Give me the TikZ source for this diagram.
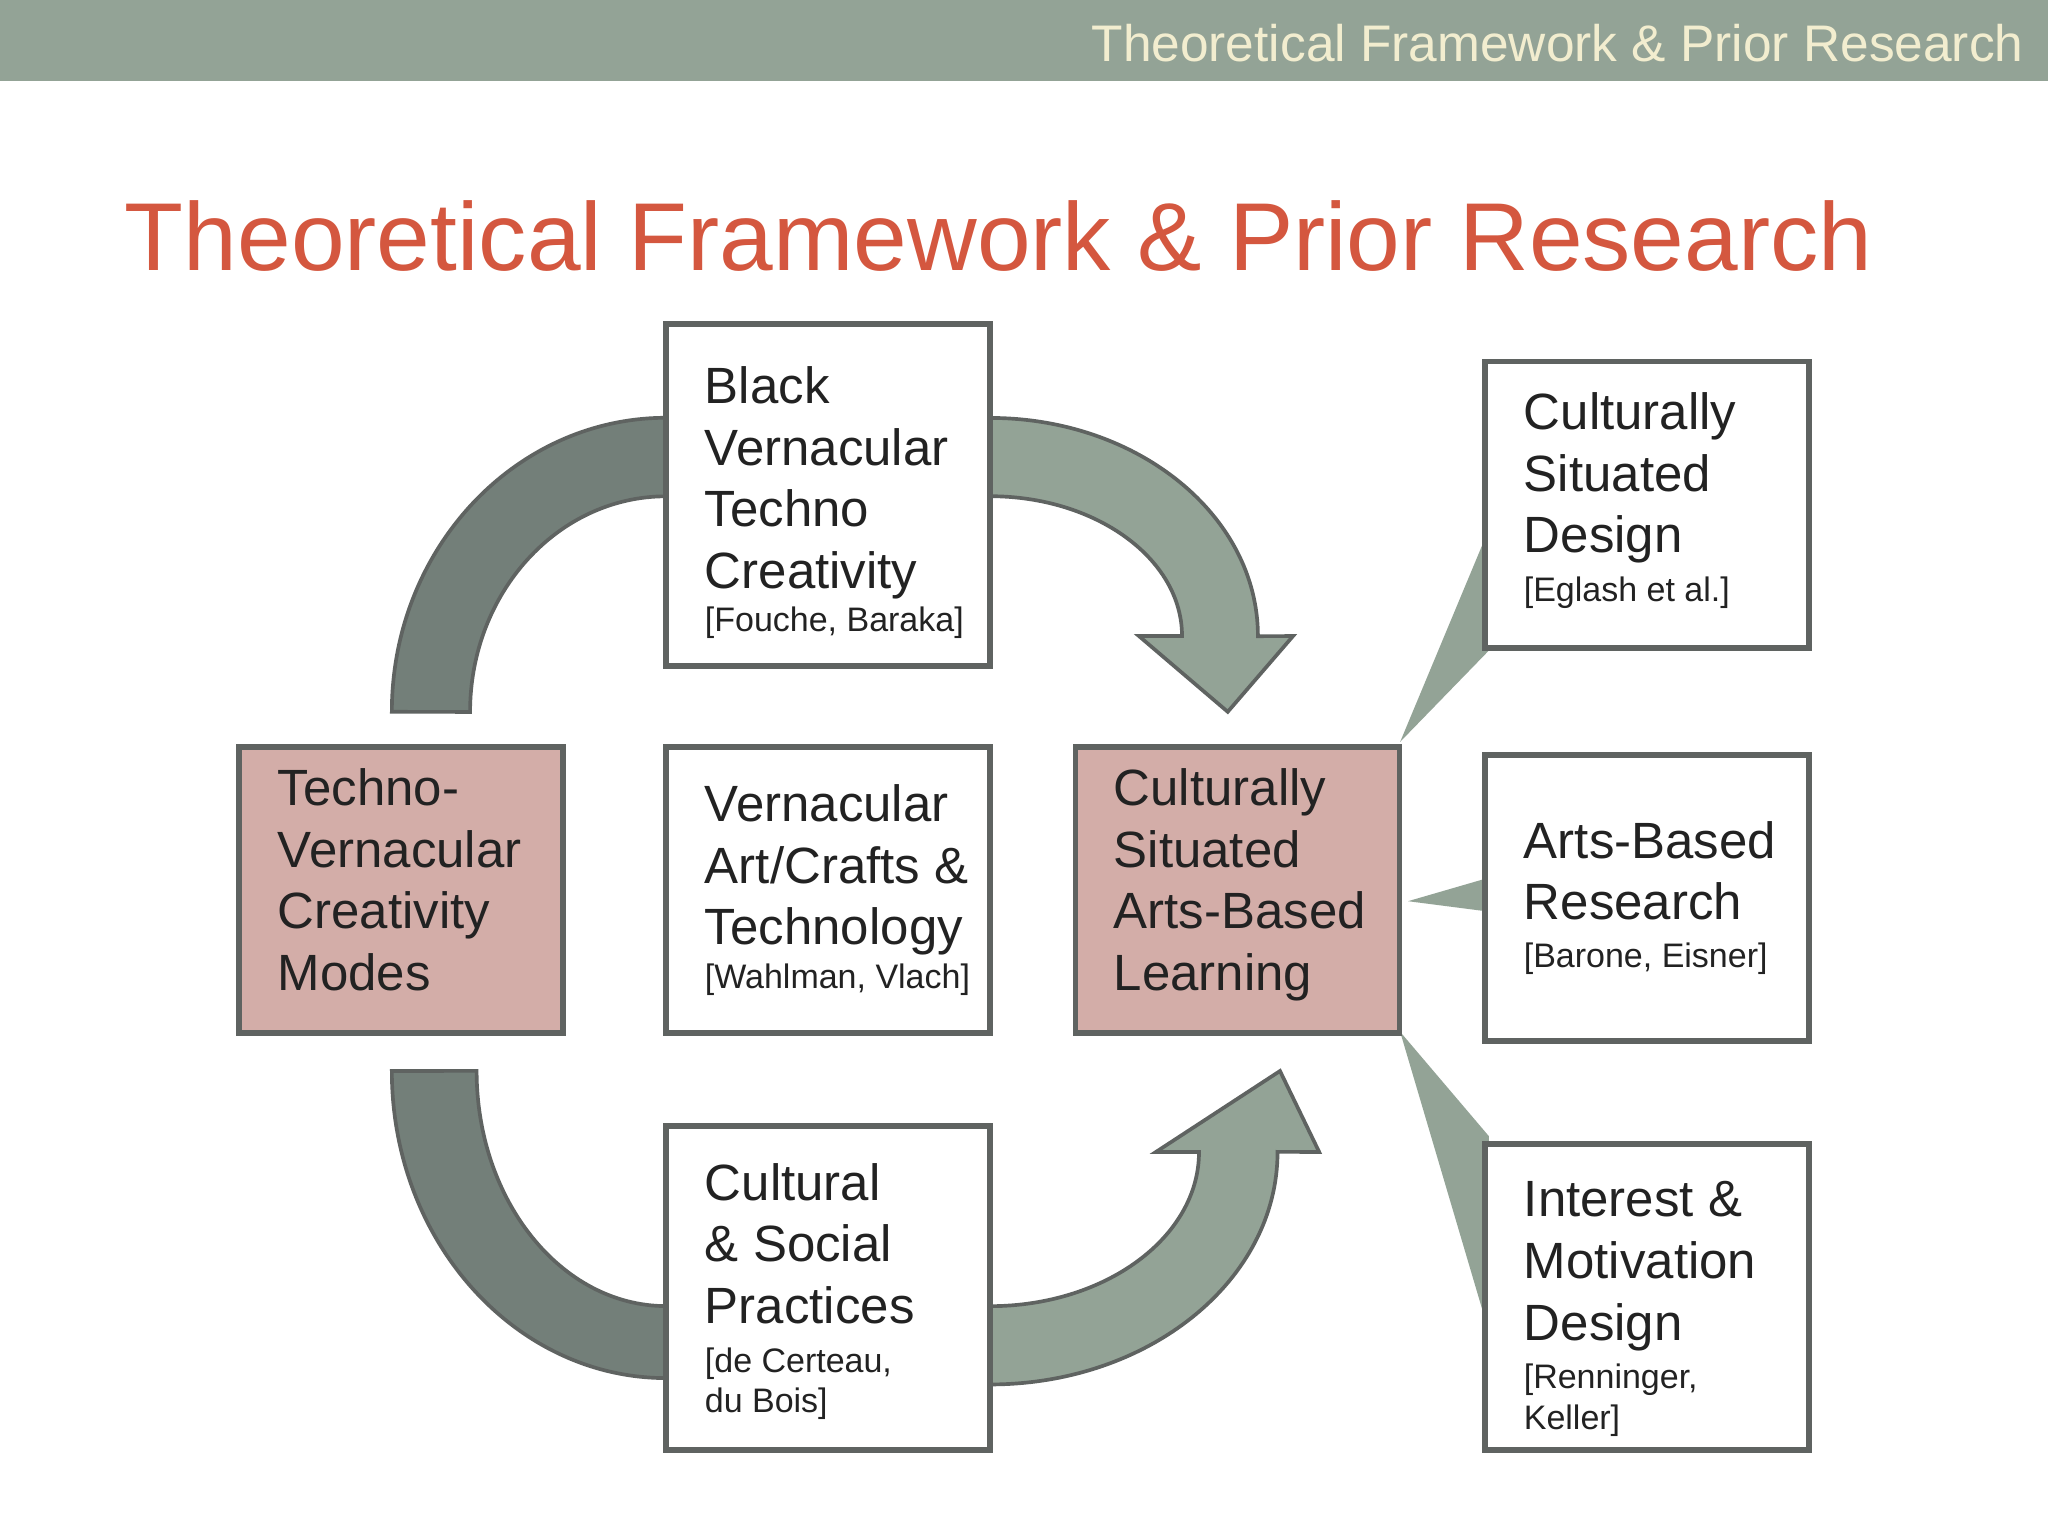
\documentclass[tikz,border=0pt]{standalone}
\usepackage{fontspec}
\setmainfont{Liberation Sans}
\definecolor{hdr}{HTML}{93A396}
\definecolor{ttl}{HTML}{D4573F}
\definecolor{darkarr}{HTML}{737F79}
\definecolor{pinkbox}{HTML}{D3ADA8}
\definecolor{bord}{HTML}{5F6361}
\definecolor{txt}{HTML}{222222}
\definecolor{hdrtxt}{HTML}{F2EDCF}
\newcommand{\bigt}{\fontsize{11.1}{13.4}\selectfont}
\newcommand{\smallt}{\fontsize{7.4}{8.8}\selectfont}
\tikzset{
  box/.style={draw=bord,line width=1.2pt,fill=white,minimum width=2.48cm,inner sep=0pt},
  pbox/.style={box,fill=pinkbox},
  lbl/.style={anchor=north west,align=left,inner sep=0pt,text=txt,font=\bigt},
  slbl/.style={anchor=north west,align=left,inner sep=0pt,text=txt,font=\smallt,yshift=-0.05cm},
  darrow/.style={fill=darkarr,draw=bord,line width=0.8pt},
  larrow/.style={fill=hdr,draw=bord,line width=0.8pt},
  wedge/.style={fill=hdr}
}
\begin{document}
\begin{tikzpicture}[x=0.01cm,y=0.01cm]
\useasboundingbox (0,0) rectangle (1568,1176);
\fill[white] (0,0) rectangle (1568,1176);
\fill[hdr] (0,1114) rectangle (1568,1176);
\node[anchor=base east,inner sep=0pt,text=hdrtxt,font=\fontsize{11.2}{14}\selectfont] (hd) at (1550,1129) {Theoretical Framework \& Prior Research};
\node[anchor=base west,inner sep=0pt,text=ttl,font=\fontsize{21.0}{26}\selectfont] (title) at (95,969) {Theoretical Framework \& Prior Research};
% arrows
\draw[darrow] (300,631) arc[start angle=180,end angle=90,x radius=2.1cm,y radius=2.25cm] -- (510,796) arc[start angle=90,end angle=180,x radius=1.5cm,y radius=1.65cm] -- cycle;
\draw[larrow] (758,856) arc[start angle=90,end angle=0,x radius=2.05cm,y radius=1.67cm] -- (990,689) -- (940,631) -- (872,689) -- (905,689) arc[start angle=0,end angle=90,x radius=1.47cm,y radius=1.07cm] -- cycle;
\draw[darrow] (300,356) arc[start angle=180,end angle=270,x radius=2.1cm,y radius=2.35cm] -- (510,121) -- (510,176) arc[start angle=270,end angle=180,x radius=1.45cm,y radius=1.8cm] -- cycle;
\draw[larrow] (758,116) arc[start angle=270,end angle=360,x radius=2.2cm,y radius=1.78cm] -- (1010,294) -- (980,356) -- (885,294) -- (918,294) arc[start angle=0,end angle=-90,x radius=1.6cm,y radius=1.18cm] -- cycle;
% wedges
\fill[wedge] (1072,608) -- (1140,771) -- (1140,678) -- cycle;
\fill[wedge] (1078,486) -- (1140,504) -- (1140,478) -- cycle;
\fill[wedge] (1072,386) -- (1140,306) -- (1140,156) -- cycle;
% boxes
\node[box,minimum height=2.62cm] (top) at (634,797) {};
\node[box,minimum height=2.19cm] (mid) at (634,494.5) {};
\node[box,minimum height=2.48cm] (bot) at (634,190) {};
\node[pbox,minimum height=2.19cm] (left) at (307,494.5) {};
\node[pbox,minimum height=2.19cm] (cen) at (947.5,494.5) {};
\node[box,minimum height=2.19cm] (r1) at (1261,789.5) {};
\node[box,minimum height=2.19cm] (r2) at (1261,488.5) {};
\node[box,minimum height=2.34cm] (r3) at (1261,183) {};
% labels
\node[lbl] (tl) at (539,896) {Black\\Vernacular\\Techno\\Creativity};
\node[slbl] (tls) at (tl.south west) {[Fouche, Baraka]};
\node[lbl] (ml) at (539,576) {Vernacular\\Art/Crafts \&\\Technology};
\node[slbl] (mls) at (ml.south west) {[Wahlman, Vlach]};
\node[lbl] (bl) at (539,286) {Cultural\\\& Social\\Practices};
\node[slbl,yshift=-0.12cm] (bls) at (bl.south west) {[de Certeau,\\du Bois]};
\node[lbl] (ll) at (212,588) {Techno-\\Vernacular\\Creativity\\Modes};
\node[lbl] (cl) at (852,588) {Culturally\\Situated\\Arts-Based\\Learning};
\node[lbl] (r1l) at (1166,876) {Culturally\\Situated\\Design};
\node[slbl,yshift=-0.04cm] (r1s) at (r1l.south west) {[Eglash et al.]};
\node[lbl] (r2l) at (1166,548) {Arts-Based\\Research};
\node[slbl,yshift=-0.11cm] (r2s) at (r2l.south west) {[Barone, Eisner]};
\node[lbl] (r3l) at (1166,272) {Interest \&\\Motivation\\Design};
\node[slbl,yshift=-0.04cm] (r3s) at (r3l.south west) {[Renninger,\\Keller]};
\end{tikzpicture}
\end{document}
